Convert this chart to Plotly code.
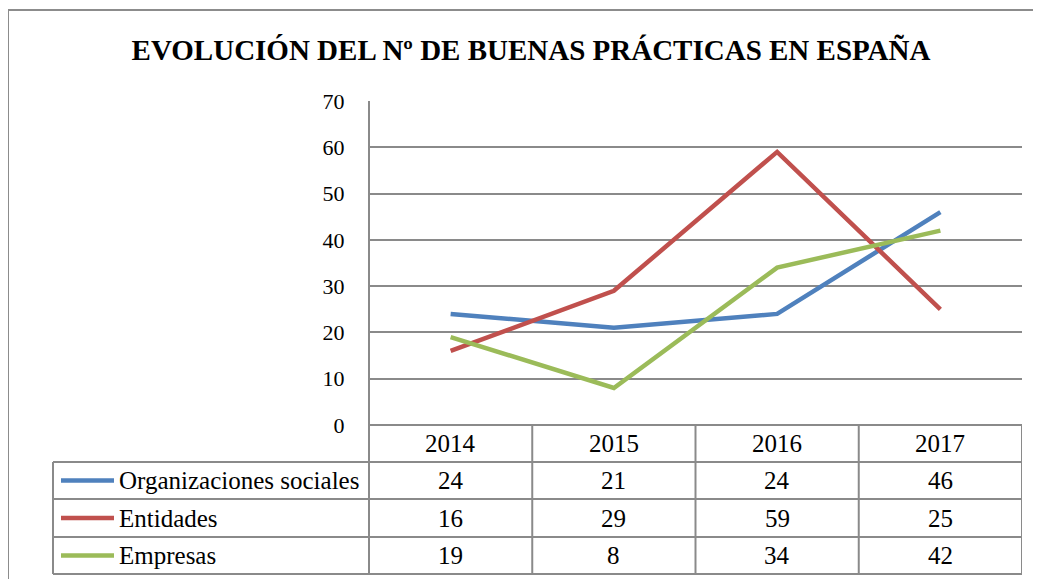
import plotly.graph_objects as go

years = ["2014", "2015", "2016", "2017"]
series_names = ["Organizaciones sociales", "Entidades", "Empresas"]
org_sociales = [24, 21, 24, 46]
entidades = [16, 29, 59, 25]
empresas = [19, 8, 34, 42]
series_values = [org_sociales, entidades, empresas]
colors = ["#4F81BD", "#C0504D", "#9BBB59"]
y_ticks = [0, 10, 20, 30, 40, 50, 60, 70]

# page body has an 8px margin, so work in reference pixels minus offset
OFF = 8
W, H = 1041 - OFF, 579 - OFF
L, R, T, B = 369, 1022, 101, 425  # plot area in reference pixels

def px(x):
    return (x - L) / (R - L)

def py(y):
    return (B - y) / (B - T)

FONT = "Liberation Serif"
GRID = "#8a8a8a"

fig = go.Figure()
xs = list(range(len(years)))
for name, vals, c in zip(series_names, series_values, colors):
    fig.add_trace(go.Scatter(x=xs, y=vals, mode="lines", name=name,
                             line=dict(color=c, width=4.5), showlegend=False,
                             cliponaxis=False))

shapes = []
annotations = []

# outer chart border
shapes.append(dict(type="rect", xref="paper", yref="paper",
                   x0=px(8), x1=px(1070), y0=py(620), y1=py(10),
                   line=dict(color="#8c8c8c", width=2), fillcolor="rgba(0,0,0,0)", layer="below"))

row_y = [425, 462, 499, 537, 574]
for i, y in enumerate(row_y):
    x0 = L if i == 0 else 53
    shapes.append(dict(type="line", xref="paper", yref="paper",
                       x0=px(x0), x1=1, y0=py(y), y1=py(y),
                       line=dict(color=GRID, width=2)))
shapes.append(dict(type="line", xref="paper", yref="paper",
                   x0=px(53), x1=px(53), y0=py(462), y1=py(574),
                   line=dict(color=GRID, width=2)))
shapes.append(dict(type="line", xref="paper", yref="paper",
                   x0=0, x1=0, y0=1, y1=py(574),
                   line=dict(color=GRID, width=2)))
for k in range(1, len(years) + 1):
    xb = k - 0.5
    shapes.append(dict(type="line", xref="x", yref="paper",
                       x0=xb, x1=xb, y0=py(425), y1=py(574),
                       line=dict(color=GRID, width=2)))

TS = 25
for i, yr in enumerate(years):
    annotations.append(dict(x=i, y=py(443.5), xref="x", yref="paper", text=yr,
                            xanchor="center", yanchor="middle", showarrow=False,
                            font=dict(family=FONT, size=TS, color="#000")))
for r, (name, vals, c) in enumerate(zip(series_names, series_values, colors)):
    yc = (row_y[r + 1] + row_y[r + 2]) / 2
    shapes.append(dict(type="line", xref="paper", yref="paper",
                       x0=px(61), x1=px(114), y0=py(yc), y1=py(yc),
                       line=dict(color=c, width=4.5)))
    annotations.append(dict(x=px(117), y=py(yc), xref="paper", yref="paper", text=name,
                            xanchor="left", yanchor="middle", showarrow=False,
                            font=dict(family=FONT, size=TS, color="#000")))
    for i, v in enumerate(vals):
        annotations.append(dict(x=i, y=py(yc), xref="x", yref="paper", text=str(v),
                                xanchor="center", yanchor="middle", showarrow=False,
                                font=dict(family=FONT, size=TS, color="#000")))

fig.update_layout(
    width=W, height=H,
    margin=dict(l=L - OFF, r=1041 - R, t=T - OFF, b=579 - B, pad=0),
    paper_bgcolor="white", plot_bgcolor="white",
    title=dict(text="<b>EVOLUCIÓN DEL Nº DE BUENAS PRÁCTICAS EN ESPAÑA</b>",
               x=(531 - OFF) / W, xanchor="center", y=1 - (50 - OFF) / H, yanchor="middle",
               font=dict(family=FONT, size=29, color="#000")),
    xaxis=dict(range=[-0.5, 3.5], showticklabels=False, showgrid=False,
               zeroline=False, showline=False, fixedrange=True),
    yaxis=dict(range=[0, 70], tickvals=y_ticks, showgrid=True, gridcolor=GRID,
               gridwidth=2, zeroline=False, showline=False,
               ticks="outside", ticklen=19, tickcolor="rgba(0,0,0,0)",
               tickfont=dict(family=FONT, size=22, color="#000")),
    shapes=shapes, annotations=annotations,
)

fig.write_html("out.html")
